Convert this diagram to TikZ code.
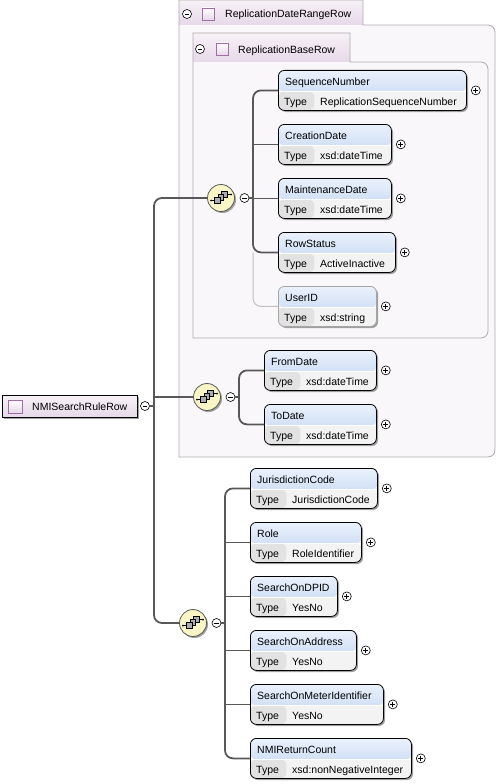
\documentclass[tikz,border=0pt]{standalone}
\usepackage{fontspec}
\setmainfont{Liberation Sans}
\usetikzlibrary{calc}
\definecolor{tabtop}{RGB}{247,241,247}
\definecolor{tabbot}{RGB}{230,216,232}
\definecolor{grpfill}{RGB}{250,247,250}
\definecolor{grpline}{RGB}{172,172,172}
\definecolor{hdtop}{RGB}{234,241,252}
\definecolor{hdbot}{RGB}{188,209,240}
\definecolor{typerow}{RGB}{243,243,243}
\definecolor{typecell}{RGB}{226,226,226}
\definecolor{connc}{RGB}{88,88,88}
\definecolor{optc}{RGB}{192,192,192}
\definecolor{seqfill}{RGB}{250,245,196}
\definecolor{shadowc}{RGB}{160,160,160}
\definecolor{iconline}{RGB}{160,110,165}
\definecolor{optborder}{RGB}{165,165,165}
\tikzset{
  txt/.style={font=\fontsize{10.5}{12}\selectfont, inner sep=0pt, text=black},
  elemnode/.style={rectangle, rounded corners=6pt, minimum height=40pt, inner sep=0pt,
    line width=0.8pt, fill=typerow,
    path picture={
      \fill[top color=hdtop,bottom color=hdbot] (path picture bounding box.north west) rectangle ([yshift=-21pt]path picture bounding box.north east);
      \fill[typecell] ([yshift=-21pt]path picture bounding box.north west) rectangle ([xshift=36pt]path picture bounding box.south west);
      \draw[white, line width=0.6pt] ([yshift=-21pt]path picture bounding box.north west) -- ([yshift=-21pt]path picture bounding box.north east);
    }},
  smallcirc/.style={circle, draw=black, fill=white, minimum size=9pt, inner sep=0pt, line width=0.6pt},
  seqc/.style={circle, draw=connc, fill=seqfill, minimum size=27pt, inner sep=0pt, line width=0.8pt},
  conn/.style={draw=connc, line width=1.8pt},
  optconn/.style={draw=optc, line width=1pt},
  grp/.style={draw=grpline, line width=0.8pt},
  tabicon/.style={draw=iconline, top color=white, bottom color=tabbot, line width=0.6pt}
}
\newcommand\xplus[1]{%
  \draw[line width=0.7pt] ([xshift=-2.4pt]#1.center) -- ([xshift=2.4pt]#1.center)
    ([yshift=-2.4pt]#1.center) -- ([yshift=2.4pt]#1.center);}
\newcommand\xminus[1]{%
  \draw[line width=0.7pt] ([xshift=-2.4pt]#1.center) -- ([xshift=2.4pt]#1.center);}
% name, x, y, width, title, type, border
\newcommand\xelem[7]{%
  \fill[shadowc] (#2+2,#3+2) [rounded corners=6pt] rectangle ++(#4,40);
  \node[elemnode, draw=#7, minimum width=#4 pt, anchor=north west] (#1) at (#2,#3) {};
  \node[txt, anchor=base west] (#1-t) at ([xshift=7pt,yshift=-15pt]#1.north west) {#5};
  \node[txt, anchor=base west] (#1-k) at ([xshift=6pt,yshift=5.5pt]#1.south west) {Type};
  \node[txt, anchor=base west] (#1-v) at ([xshift=42pt,yshift=5.5pt]#1.south west) {#6};
  \node[smallcirc] (#1-p) at ([xshift=9pt]#1.east) {};
  \xplus{#1-p}}
% name, x, y
\newcommand\xseq[3]{%
  \fill[shadowc] (#2+1.5,#3+1.5) circle (13.5);
  \node[seqc] (#1) at (#2,#3) {};
  \draw[line width=0.6pt] (#2-10,#3+2.5) -- (#2-6,#3+2.5);
  \fill (#2-10,#3+2.5) circle (1);
  \draw[line width=0.6pt] (#2+5,#3-3.5) -- (#2+10,#3-3.5);
  \fill (#2+10,#3-3.5) circle (1);
  \draw[fill=gray!65, line width=0.6pt] (#2+0.5,#3-6.5) rectangle ++(5.5,5.5);
  \draw[fill=gray!65, line width=0.6pt] (#2-3,#3-3.5) rectangle ++(5.5,5.5);
  \draw[fill=gray!65, line width=0.6pt] (#2-6.5,#3-0.5) rectangle ++(5.5,5.5);
  \node[smallcirc] (#1-m) at (#2+23.5,#3) {};
  \xminus{#1-m}}
\begin{document}
\begin{tikzpicture}[x=1pt,y=-1pt]
\useasboundingbox (0,0) rectangle (497,784);
% ---- outer group ReplicationDateRangeRow
\fill[grpfill] (179,25) [rounded corners=7pt] rectangle (495,457);
\fill[grpfill] (179,25) rectangle (300,457);
\shade[top color=tabtop,bottom color=tabbot] (179,0) rectangle (363,25);
\draw[grp] (179,457) -- (179,0) -- (363,0) -- (363,25) -- (430,25) [rounded corners=7pt] -- (495,25) -- (495,457) -- (300,457) [sharp corners] -- (179,457) -- cycle;
\node[smallcirc] (tabA-m) at (187,14) {};
\xminus{tabA-m}
\draw[tabicon] (202,8) rectangle (214,20);
\node[txt, anchor=base west] (tabA) at (225,18) {ReplicationDateRangeRow};
% ---- inner group ReplicationBaseRow
\fill[grpfill] (193,62) [rounded corners=7pt] rectangle (488,338);
\fill[grpfill] (193,62) rectangle (300,338);
\shade[top color=tabtop,bottom color=tabbot] (193,33) rectangle (350,62);
\draw[grp] (193,338) -- (193,33) -- (350,33) -- (350,62) -- (420,62) [rounded corners=7pt] -- (488,62) -- (488,338) -- (300,338) [sharp corners] -- (193,338) -- cycle;
\node[smallcirc] (tabB-m) at (200,49) {};
\xminus{tabB-m}
\draw[tabicon] (216,43) rectangle (228,55);
\node[txt, anchor=base west] (tabB) at (238,53) {ReplicationBaseRow};
% ---- root element
\fill[shadowc] (4,397) rectangle (139,419);
\node[draw=black, line width=0.8pt, top color=tabtop, bottom color=tabbot, minimum width=135pt, minimum height=22pt, inner sep=0pt, anchor=north west] (nmi) at (2,395) {};
\draw[tabicon] (8,400) rectangle (22,413);
\node[txt, anchor=base west] (nmi-t) at (32,410) {NMISearchRuleRow};
\node[smallcirc] (nmi-m) at (145,406) {};
\xminus{nmi-m}
% ---- coordinates of branch lines
\coordinate (m) at (154,406);
\coordinate (g1) at (253,198);
\coordinate (g2) at (239,397);
\coordinate (g3) at (225,623);
% ---- sequence compositors
\xseq{seqA}{221}{198}
\xseq{seqB}{207}{397}
\xseq{seqC}{193}{623}
% ---- elements group 1
\xelem{SequenceNumber}{278}{70}{188}{SequenceNumber}{ReplicationSequenceNumber}{black}
\xelem{CreationDate}{278}{124}{113}{CreationDate}{xsd:dateTime}{black}
\xelem{MaintenanceDate}{278}{178}{113}{MaintenanceDate}{xsd:dateTime}{black}
\xelem{RowStatus}{278}{232}{117}{RowStatus}{ActiveInactive}{black}
\xelem{UserID}{278}{286}{98}{UserID}{xsd:string}{optborder}
% ---- elements group 2
\xelem{FromDate}{264}{350}{112}{FromDate}{xsd:dateTime}{black}
\xelem{ToDate}{264}{404}{112}{ToDate}{xsd:dateTime}{black}
% ---- elements group 3
\xelem{JurisdictionCode}{250}{468}{127}{JurisdictionCode}{JurisdictionCode}{black}
\xelem{Role}{250}{522}{111}{Role}{RoleIdentifier}{black}
\xelem{SearchOnDPID}{250}{576}{87}{SearchOnDPID}{YesNo}{black}
\xelem{SearchOnAddress}{250}{630}{106}{SearchOnAddress}{YesNo}{black}
\xelem{SearchOnMeterIdentifier}{250}{684}{133}{SearchOnMeterIdentifier}{YesNo}{black}
\xelem{NMIReturnCount}{250}{738}{161}{NMIReturnCount}{xsd:nonNegativeInteger}{black}
% ---- connectors
\draw[conn] (nmi-m.east) -- (m);
\draw[conn, rounded corners=8pt] (seqA.west) -| (m) |- (seqC.west);
\draw[conn] (seqB.west) -- (seqB.west -| m);
% group 1
\draw[optconn, rounded corners=8pt] (RowStatus.west -| g1) |- (UserID.west);
\draw[conn] (seqA-m.east) -- (g1);
\draw[conn, rounded corners=8pt] (SequenceNumber.west) -| (g1) |- (RowStatus.west);
\draw[conn] (CreationDate.west) -- (CreationDate.west -| g1);
\draw[conn] (MaintenanceDate.west) -- (MaintenanceDate.west -| g1);
% group 2
\draw[conn] (seqB-m.east) -- (g2);
\draw[conn, rounded corners=8pt] (FromDate.west) -| (g2) |- (ToDate.west);
% group 3
\draw[conn] (seqC-m.east) -- (g3);
\draw[conn, rounded corners=8pt] (JurisdictionCode.west) -| (g3) |- (NMIReturnCount.west);
\draw[conn] (Role.west) -- (Role.west -| g3);
\draw[conn] (SearchOnDPID.west) -- (SearchOnDPID.west -| g3);
\draw[conn] (SearchOnAddress.west) -- (SearchOnAddress.west -| g3);
\draw[conn] (SearchOnMeterIdentifier.west) -- (SearchOnMeterIdentifier.west -| g3);
\end{tikzpicture}
\end{document}
